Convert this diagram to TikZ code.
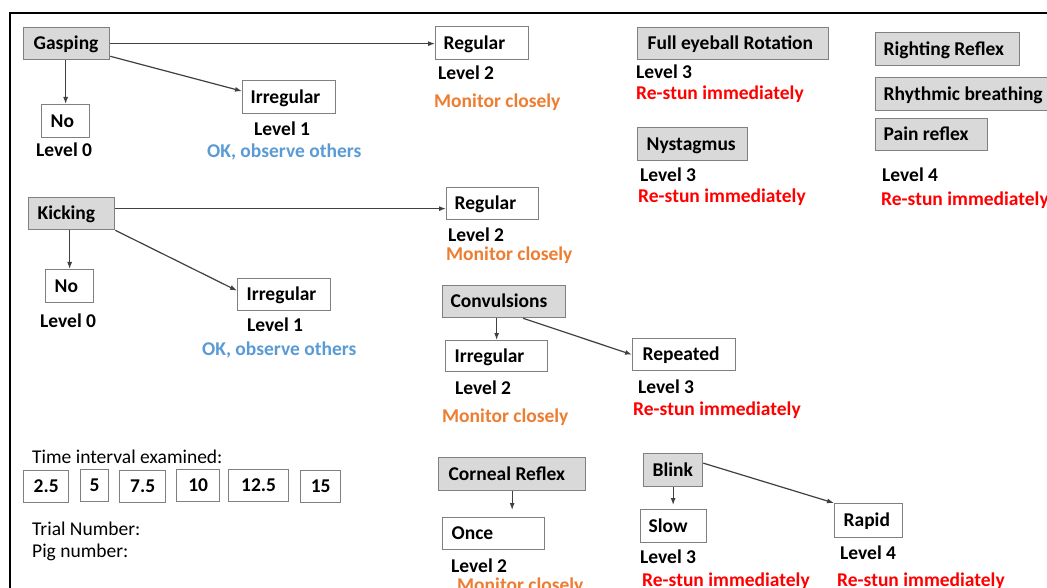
\documentclass[tikz,border=0pt]{standalone}
\usepackage{fontspec}
\setmainfont{Carlito}
\usetikzlibrary{arrows.meta}
\definecolor{boxfill}{HTML}{D9D9D9}
\definecolor{boxline}{HTML}{808080}
\definecolor{arrc}{HTML}{404040}
\definecolor{orng}{HTML}{ED7D31}
\definecolor{blu}{HTML}{5B9BD5}
\definecolor{rd}{HTML}{FF0000}
\newcommand\fs{\fontsize{19.5}{23}\selectfont}
% box: name, style, x1, y1, x2, y2, left pad, text
\newcommand\bx[8]{%
  \pgfmathsetmacro\bxw{#5-#3}\pgfmathsetmacro\bxh{#6-#4}%
  \node[#2, minimum width=\bxw pt, text width=\bxw pt, minimum height=\bxh pt] (#1) at (#3,#4) {\noindent\hspace*{#7pt}#8};}
\begin{document}
\begin{tikzpicture}[x=1pt,y=-1pt,
  basebox/.style={anchor=north west, inner sep=0pt, align=flush left, text height=12.5pt, text depth=0pt, line width=1.3pt, draw=boxline, font=\fs\bfseries},
  gbox/.style={basebox, fill=boxfill},
  wbox/.style={basebox, fill=white},
  tbox/.style={basebox, fill=white, align=center},
  lab/.style={anchor=base west, inner sep=0pt, font=\fs\bfseries},
  plain/.style={anchor=base west, inner sep=0pt, font=\fs},
  arr/.style={draw=arrc, line width=1.2pt, -{Latex[length=7pt,width=5pt]}}]
\useasboundingbox (0,0) rectangle (1047,588);
\clip (0,0) rectangle (1047,588);
\fill[white] (0,0) rectangle (1047,588);
\draw[line width=2.5pt] (10,600) -- (10,13) -- (1060,13);

% Gasping group
\bx{gasp}{gbox}{23}{27}{109}{59}{10}{Gasping}
\bx{no1}{wbox}{41}{104}{89}{137}{9}{No}
\bx{irr1}{wbox}{242}{80}{335}{113}{8}{Irregular}
\bx{reg1}{wbox}{435}{26}{528}{59}{8}{Regular}
\node[lab] (l0a) at (36,157) {Level 0};
\node[lab] (l1a) at (254,136) {Level 1};
\node[lab, text=blu] (oka) at (207,158) {OK, observe others};
\node[lab] (l2a) at (438,80) {Level 2};
\node[lab, text=orng] (m1) at (434,108) {Monitor closely};

% Eye group
\bx{eye}{gbox}{637}{27}{828}{59}{10}{Full eyeball Rotation}
\node[lab] (l3a) at (636,79) {Level 3};
\node[lab, text=rd] (r3a) at (636,100) {Re-stun immediately};
\bx{nys}{gbox}{637}{127}{747}{160}{9}{Nystagmus}
\node[lab] (l3b) at (640,182) {Level 3};
\node[lab, text=rd] (r3b) at (638,203) {Re-stun immediately};

% Right column
\bx{rightr}{gbox}{875}{32}{1019}{65}{8}{Righting Reflex}
\bx{rhyt}{gbox}{875}{77}{1062}{110}{8}{Rhythmic breathing}
\bx{pain}{gbox}{875}{118}{987}{150}{8}{Pain reflex}
\node[lab] (l4a) at (882,182) {Level 4};
\node[lab, text=rd] (r4a) at (881,206) {Re-stun immediately};

% Kicking group
\bx{kick}{gbox}{28}{197}{114}{229}{9}{Kicking}
\bx{no2}{wbox}{45}{269}{93}{302}{9}{No}
\bx{irr2}{wbox}{237}{278}{330}{310}{9}{Irregular}
\bx{reg2}{wbox}{446}{187}{538}{219}{8}{Regular}
\node[lab] (l0b) at (40,327) {Level 0};
\node[lab] (l1b) at (247,331) {Level 1};
\node[lab, text=blu] (okb) at (202,355) {OK, observe others};
\node[lab] (l2b) at (448,242) {Level 2};
\node[lab, text=orng] (m2) at (446,261) {Monitor closely};

% Convulsions group
\bx{conv}{gbox}{442}{285}{565}{317}{8}{Convulsions}
\bx{irr3}{wbox}{445}{340}{547}{371}{9}{Irregular}
\bx{rep}{wbox}{632}{338}{735}{370}{10}{Repeated}
\node[lab] (l2c) at (455,394) {Level 2};
\node[lab, text=orng] (m3) at (442,422) {Monitor closely};
\node[lab] (l3c) at (638,393) {Level 3};
\node[lab, text=rd] (r3c) at (633,415) {Re-stun immediately};

% Time interval
\node[plain] (time) at (32,463) {Time interval examined:};
\bx{t1}{tbox}{23}{470}{68}{502}{0}{2.5}
\bx{t2}{tbox}{80}{469}{108}{501}{0}{5}
\bx{t3}{tbox}{119}{470}{165}{502}{0}{7.5}
\bx{t4}{tbox}{176}{469}{219}{501}{0}{10}
\bx{t5}{tbox}{228}{469}{288}{501}{0}{12.5}
\bx{t6}{tbox}{300}{470}{340}{502}{0}{15}
\node[plain] (trial) at (32,535) {Trial Number:};
\node[plain] (pig) at (32,557) {Pig number:};

% Corneal / Blink
\bx{corn}{gbox}{438}{457}{585}{490}{10}{Corneal Reflex}
\bx{once}{wbox}{442}{517}{544}{549}{9}{Once}
\node[lab] (l2d) at (451,572) {Level 2};
\node[lab, text=orng] (m4) at (457,591) {Monitor closely};
\bx{blink}{gbox}{643}{453}{702}{486}{9}{Blink}
\bx{slow}{wbox}{640}{509}{706}{542}{8}{Slow}
\bx{rapid}{wbox}{834}{503}{902}{537}{9}{Rapid}
\node[lab] (l3d) at (640,563) {Level 3};
\node[lab, text=rd] (r3d) at (642,586) {Re-stun immediately};
\node[lab] (l4d) at (840,559) {Level 4};
\node[lab, text=rd] (r4d) at (837,586) {Re-stun immediately};

% Connectors
\draw[arr] (gasp.east) -- (gasp.east -| reg1.west);
\draw[arr] (no1.north |- gasp.south) -- (no1.north);
\draw[arr] ([yshift=4pt]gasp.south east) -- ([yshift=6pt]irr1.west);
\draw[arr] ([yshift=5pt]kick.east) -- ([yshift=-5pt]reg2.west);
\draw[arr] (no2.north |- kick.south) -- (no2.north);
\draw[arr] (kick.south east) -- ([yshift=4pt]irr2.west);
\draw[arr] (irr3.north |- conv.south) -- (irr3.north);
\draw[arr] ([xshift=19pt]conv.south) -- (rep.west);
\draw[arr] (corn.south) -- ([yshift=7pt]once.north -| corn.south);
\draw[arr] (blink.south) -- ([yshift=4pt]slow.north -| blink.south);
\draw[arr] ([yshift=7pt]blink.east) -- (rapid.north west);
\end{tikzpicture}
\end{document}
